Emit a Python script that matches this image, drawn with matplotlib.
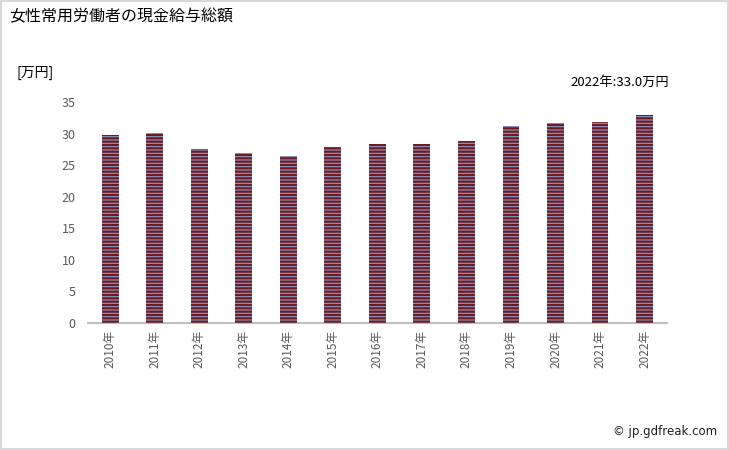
import numpy as np
import matplotlib
matplotlib.use("Agg")
import matplotlib.pyplot as plt
from matplotlib.patches import Rectangle

plt.rcParams['font.family'] = ['Noto Sans CJK JP', 'DejaVu Sans']
plt.rcParams['hatch.linewidth'] = 1.6

# Datos
anios = ["2010年", "2011年", "2012年", "2013年", "2014年", "2015年", "2016年",
         "2017年", "2018年", "2019年", "2020年", "2021年", "2022年"]
valores = [29.8, 30.1, 27.6, 26.9, 26.5, 27.9, 28.4, 28.4, 28.8, 31.2, 31.7, 31.9, 33.0]
yticks = [0, 5, 10, 15, 20, 25, 30, 35]

fig = plt.figure(figsize=(7.29, 4.5), dpi=100)
ax = fig.add_axes([0.1207, 0.2822, 0.794, 0.4911])

pos = np.arange(len(anios))
# Relleno azul y rayas rojas
ax.bar(pos, valores, width=0.38, color="#8a9ccc", edgecolor="none", zorder=2)
ax.bar(pos, valores, width=0.38, fill=False, hatch="-----", edgecolor="#6e1a20",
       linewidth=0, zorder=3)

ax.set_xlim(-0.5, len(anios) - 0.5)
ax.set_ylim(0, 35)
ax.set_yticks(yticks)
ax.set_xticks(pos)
ax.set_xticklabels(anios, rotation=90, fontsize=8.5, color="#595959")
ax.tick_params(axis="y", length=0, labelsize=9, labelcolor="#595959", pad=9)
ax.tick_params(axis="x", length=0, pad=5)
for s in ["top", "right", "left"]:
    ax.spines[s].set_visible(False)
ax.spines["bottom"].set_color("#bfbfbf")
ax.spines["bottom"].set_linewidth(1.5)

# Textos
fig.text(0.012, 0.962, "女性常用労働者の現金給与総額", fontsize=11.5, va="center", ha="left")
fig.text(0.022, 0.838, "[万円]", fontsize=10, va="center", ha="left")
fig.text(0.918, 0.818, "2022年:33.0万円", fontsize=9.5, va="center", ha="right")
fig.text(0.984, 0.04, "© jp.gdfreak.com", fontsize=8.5, va="center", ha="right",
         family=["DejaVu Sans"], color="#222222")

# Borde
fig.patches.append(Rectangle((0.001, 0.002), 0.997, 0.996, transform=fig.transFigure,
                             fill=False, edgecolor="#d9d9d9", linewidth=1.5))

plt.savefig("out.png", dpi=100)
